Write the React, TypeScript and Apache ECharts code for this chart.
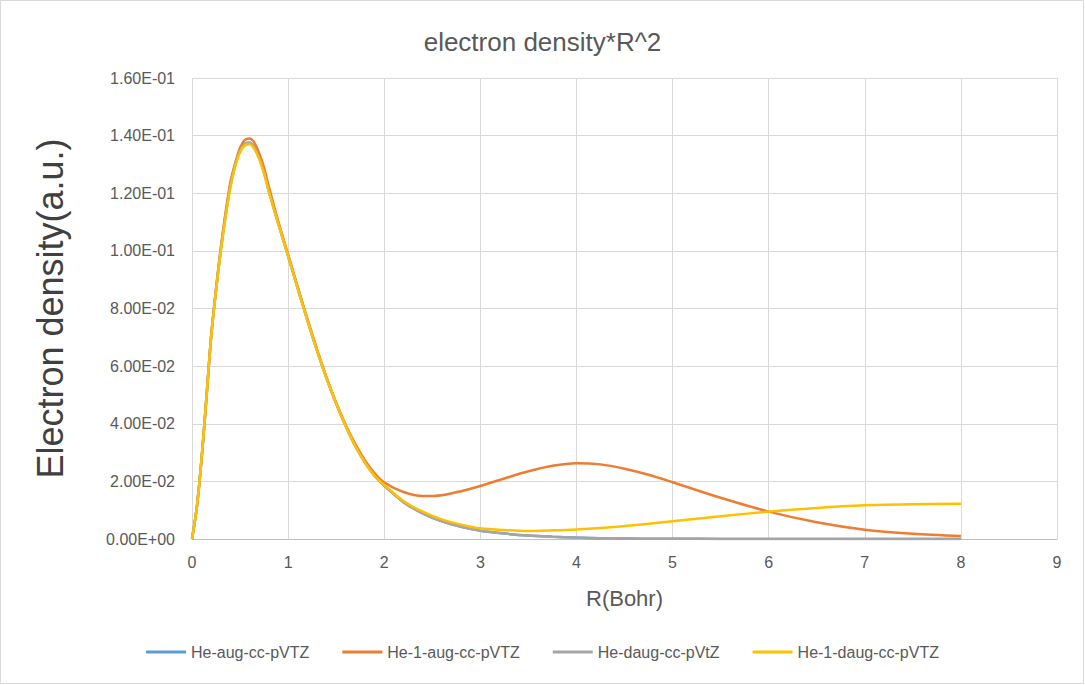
import React, { useEffect, useRef } from "react";
import * as echarts from "echarts";

const xMain = [0, 0.05, 0.1, 0.15, 0.2, 0.25, 0.3, 0.35, 0.4, 0.45, 0.5, 0.55, 0.6, 0.65, 0.7, 0.75, 0.8, 0.9, 1.0, 1.1, 1.2, 1.3, 1.4, 1.5, 1.6, 1.7, 1.8, 1.9, 2.0, 2.2, 2.4, 2.6, 2.8, 3.0, 3.25, 3.5, 3.75, 4.0, 4.25, 4.5, 4.75, 5.0, 5.5, 6.0, 6.5, 7.0, 7.5, 8.0];

const heAug = [0, 0.011, 0.028, 0.049, 0.0705, 0.0865, 0.1005, 0.1125, 0.1228, 0.13, 0.1348, 0.1372, 0.1375, 0.1358, 0.1322, 0.1272, 0.1207, 0.1092, 0.0982, 0.087, 0.076, 0.0655, 0.0558, 0.047, 0.0391, 0.0322, 0.0265, 0.0219, 0.0185, 0.0128, 0.0089, 0.0061, 0.0042, 0.0029, 0.0019, 0.0012, 0.0008, 0.0005, 0.0003, 0.0002, 0.0001, 0.0001, 0, 0, 0, 0, 0, 0];

const he1Aug = [0, 0.011, 0.028, 0.049, 0.0708, 0.087, 0.1012, 0.1135, 0.124, 0.1305, 0.1358, 0.1385, 0.139, 0.1375, 0.1338, 0.1288, 0.1222, 0.11, 0.0988, 0.0875, 0.0765, 0.066, 0.0561, 0.0473, 0.0396, 0.0329, 0.0273, 0.0228, 0.0196, 0.0163, 0.0149, 0.0152, 0.0166, 0.0184, 0.021, 0.0235, 0.0254, 0.0263, 0.0259, 0.0244, 0.0223, 0.0197, 0.0143, 0.0095, 0.0058, 0.0032, 0.0018, 0.001];

const heDaug = [0, 0.011, 0.028, 0.049, 0.0705, 0.0865, 0.1005, 0.1125, 0.1228, 0.13, 0.1348, 0.1372, 0.1375, 0.1358, 0.1322, 0.1272, 0.1207, 0.1092, 0.0982, 0.087, 0.076, 0.0655, 0.0558, 0.047, 0.0391, 0.0322, 0.0265, 0.0219, 0.0185, 0.0128, 0.0089, 0.0061, 0.0042, 0.0029, 0.0019, 0.0012, 0.0008, 0.0005, 0.0003, 0.0002, 0.0001, 0.0001, 0, 0, 0, 0, 0, 0];

const he1Daug = [0, 0.011, 0.028, 0.049, 0.0703, 0.0862, 0.1, 0.1118, 0.122, 0.1293, 0.1342, 0.1366, 0.137, 0.1353, 0.1318, 0.1268, 0.1205, 0.1092, 0.0982, 0.087, 0.076, 0.0655, 0.0558, 0.047, 0.0391, 0.0322, 0.0265, 0.0219, 0.0188, 0.0132, 0.0095, 0.0068, 0.005, 0.0037, 0.0031, 0.0028, 0.003, 0.0033, 0.0038, 0.0045, 0.0053, 0.0062, 0.0079, 0.0095, 0.0108, 0.0117, 0.0121, 0.0122];

const seriesNames = ["He-aug-cc-pVTZ", "He-1-aug-cc-pVTZ", "He-daug-cc-pVtZ", "He-1-daug-cc-pVTZ"];
const seriesColors = ["#5B9BD5", "#ED7D31", "#A5A5A5", "#FFC000"];
const seriesValues = [heAug, he1Aug, heDaug, he1Daug];

const titleText = "electron density*R^2";
const xTitle = "R(Bohr)";
const yTitle = "Electron density(a.u.)";

function fmtExp(v: number): string {
  if (v === 0) return "0.00E+00";
  const s = v.toExponential(2);
  const [m, e] = s.split("e");
  const n = parseInt(e, 10);
  const sign = n < 0 ? "-" : "+";
  const abs = Math.abs(n);
  return m + "E" + sign + (abs < 10 ? "0" + abs : String(abs));
}

export default function App() {
  const ref = useRef<HTMLDivElement>(null);
  useEffect(() => {
    document.body.style.margin = "0";
    if (!ref.current) return;
    const chart = echarts.init(ref.current, null, { renderer: "svg" });
    const font = "'Liberation Sans', Arial, sans-serif";
    chart.setOption({
      animation: false,
      backgroundColor: "#ffffff",
      textStyle: { fontFamily: font },
      title: {
        text: titleText,
        left: "center",
        top: 24,
        textStyle: { fontFamily: font, fontSize: 26, fontWeight: "normal", color: "#595959" },
      },
      grid: { left: 192, right: 28, top: 78, bottom: 146, containLabel: false },
      legend: {
        bottom: 20,
        left: "center",
        itemWidth: 40,
        itemHeight: 3,
        itemGap: 33,
        icon: "rect",
        textStyle: { fontFamily: font, fontSize: 16, color: "#595959" },
        data: seriesNames,
      },
      xAxis: {
        type: "value",
        min: 0,
        max: 9,
        interval: 1,
        name: xTitle,
        nameLocation: "middle",
        nameGap: 48,
        nameTextStyle: { fontFamily: font, fontSize: 22, color: "#595959" },
        axisLine: { show: true, lineStyle: { color: "#BFBFBF", width: 1 } },
        axisTick: { show: false },
        axisLabel: { fontFamily: font, fontSize: 16, color: "#595959", margin: 15 },
        splitLine: { show: true, lineStyle: { color: "#D9D9D9", width: 1 } },
      },
      yAxis: {
        type: "value",
        min: 0,
        max: 0.16,
        interval: 0.02,
        name: yTitle,
        nameLocation: "middle",
        nameGap: 124,
        nameTextStyle: { fontFamily: font, fontSize: 36, color: "#404040" },
        axisLine: { show: false },
        axisTick: { show: false },
        axisLabel: { fontFamily: font, fontSize: 16, color: "#595959", margin: 17, formatter: (v: number) => fmtExp(v) },
        splitLine: { show: true, lineStyle: { color: "#D9D9D9", width: 1 } },
      },
      series: seriesNames.map((name, i) => ({
        name,
        type: "line",
        smooth: 0.3,
        showSymbol: false,
        symbol: "none",
        color: seriesColors[i],
        lineStyle: { color: seriesColors[i], width: 2.5 },
        data: xMain.map((x, j) => [x, seriesValues[i][j]]),
      })),
      graphic: [
        {
          type: "rect",
          shape: { x: 0.5, y: 0.5, width: 1083, height: 683 },
          style: { fill: "none", stroke: "#D9D9D9", lineWidth: 1 },
          silent: true,
        },
      ],
    });
    return () => chart.dispose();
  }, []);
  return <div ref={ref} style={{ width: 1085, height: 685, position: "absolute", left: 0, top: 0 }} />;
}
